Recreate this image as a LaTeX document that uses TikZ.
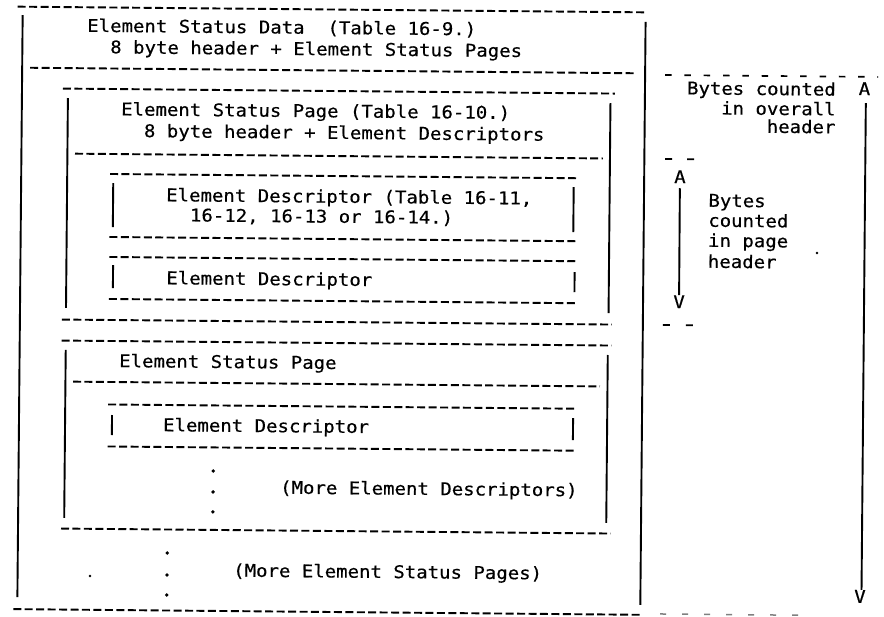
\documentclass[tikz,border=0pt]{standalone}
\usepackage{fontspec}
\newfontfamily\typed[FakeStretch=1.086,FakeBold=0.45]{DejaVu Sans Mono}
\begin{document}
\begin{tikzpicture}[x=1pt,y=1pt,
  dl/.style={line width=1.9pt, dash pattern=on 8pt off 3.45pt},
  vl/.style={line width=1.9pt},
  sparse/.style={line width=1.7pt, dash pattern=on 6.5pt off 12.8pt},
  txt/.style={inner sep=0pt, anchor=base west, font=\typed\fontsize{17.5}{20}\selectfont, transform shape},
  dotc/.style={fill, circle, inner sep=0pt, minimum size=3.8pt}]
\useasboundingbox[fill=white] (0,0) rectangle (884,-617);
\begin{scope}[rotate around={-0.52:(442,-308)}]
% ---------- outer box: Element Status Data
\draw[dl] (15,-10.5) -- (643,-10.5);
\draw[vl] (20,-19) -- (20,-601);
\draw[vl] (643,-20) -- (643,-603);
\draw[dl] (16,-613) -- (643,-613);
\draw[line width=1.5pt, gray, dash pattern=on 6pt off 16pt] (663,-612) -- (812,-612);
\node[txt] (hdr1) at (84.5,-35) {Element Status Data\ \ (Table 16-9.)};
\node[txt] (hdr2) at (107.7,-56.3) {8 byte header + Element Status Pages};
\draw[dl] (28,-71.5) -- (634,-71.5);
% ---------- page 1
\draw[dl] (61,-92) -- (613,-92);
\draw[vl] (66,-101.4) -- (66,-311.4);
\draw[vl] (608.6,-101.5) -- (608.6,-311.5);
\node[txt] (pg1a) at (119.2,-118.3) {Element Status Page (Table 16-10.)};
\node[txt] (pg1b) at (142.2,-139.8) {8 byte header + Element Descriptors};
\draw[dl] (73.6,-157) -- (601.6,-157);
% descriptor 1
\draw[dl] (108.8,-177) -- (576.8,-177);
\draw[vl] (112.1,-186) -- (112.1,-230);
\draw[vl] (572.6,-186) -- (572.6,-231);
\node[txt] (d1a) at (165,-203.7) {Element Descriptor (Table 16-11,};
\node[txt] (d1b) at (189,-223.7) {16-12, 16-13 or 16-14.)};
\draw[dl] (108.8,-240) -- (576.8,-240);
% descriptor 2
\draw[dl] (108.8,-260) -- (576.8,-260);
\draw[vl] (112.7,-268) -- (112.7,-291);
\draw[vl] (574.3,-271) -- (574.3,-291);
\node[txt] (d2) at (165.9,-286.7) {Element Descriptor};
\draw[dl] (108.8,-302) -- (576.8,-302);
\draw[dl] (62,-323) -- (612,-323);
% ---------- page 2
\draw[dl] (62,-344) -- (612,-344);
\draw[vl] (66.1,-353.4) -- (66.1,-521.4);
\draw[vl] (608.2,-353.5) -- (608.2,-521.5);
\node[txt] (pg2) at (119.5,-370) {Element Status Page};
\draw[dl] (73.7,-385) -- (600.7,-385);
% descriptor 3
\draw[dl] (108.9,-407.5) -- (577.9,-407.5);
\draw[vl] (113,-418) -- (113,-438);
\draw[vl] (574.1,-417) -- (574.1,-439);
\node[txt] (d3) at (164,-433.7) {Element Descriptor};
\draw[dl] (108.9,-449.5) -- (577.9,-449.5);
\node[dotc] (e1) at (214.7,-473) {};
\node[dotc] (e2) at (214.7,-494) {};
\node[dotc] (e3) at (214.7,-514) {};
\node[txt] (more1) at (281.6,-495.1) {(More Element Descriptors)};
\draw[dl] (63,-532) -- (613,-532);
% more pages
\node[dotc] (p1) at (169.4,-555.5) {};
\node[dotc] (p2) at (169.4,-577.5) {};
\node[dotc] (p3) at (169.4,-597.5) {};
\node[txt] (more2) at (235.4,-578.5) {(More Element Status Pages)};
\node[dotc, minimum size=2.6pt] (speck1) at (92.4,-579.2) {};
% ---------- right side: overall header count
\draw[sparse] (663,-73) -- (876,-73);
\node[txt, anchor=base east] (oa1) at (834,-92.1) {Bytes counted};
\node[txt, anchor=base east] (oa2) at (834,-111.9) {in overall};
\node[txt, anchor=base east] (oa3) at (834,-129.8) {header};
\node[txt, anchor=base] (oA) at (862.5,-91.2) {A};
\node[txt, anchor=base] (oV) at (862.6,-599) {V};
\draw[vl] ([xshift=1.5pt,yshift=-8pt]oA.south) -- ([xshift=1.5pt]oV.north);
% ---------- right side: page header count
\draw[line width=1.7pt, dash pattern=on 7pt off 15pt] (663.7,-157) -- (694,-157);
\draw[line width=1.7pt, dash pattern=on 7pt off 16pt] (663,-323) -- (694,-323);
\node[txt, anchor=base] (iA) at (678.8,-180.9) {A};
\node[txt, anchor=base] (iV) at (679,-306) {V};
\draw[vl] ([yshift=-5pt]iA.south) -- (iV.north);
\node[txt] (ib1) at (707.3,-204.3) {Bytes};
\node[txt] (ib2) at (707.3,-224.3) {counted};
\node[txt] (ib3) at (707.3,-244.3) {in page};
\node[txt] (ib4) at (707.3,-265.3) {header};
\node[dotc, minimum size=2.8pt] (speck2) at (816.5,-249.6) {};
\end{scope}
\end{tikzpicture}
\end{document}
